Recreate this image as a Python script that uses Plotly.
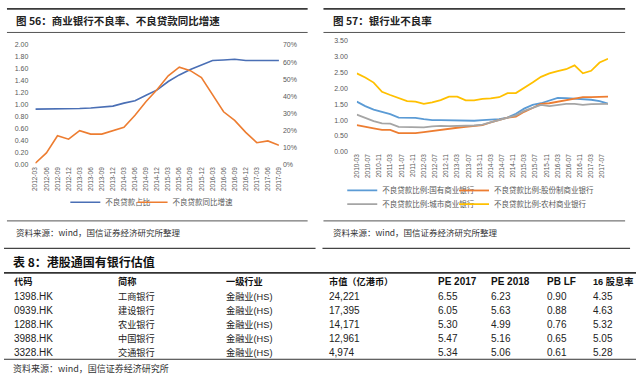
import re
import plotly.graph_objects as go

W, H = 639, 377

# ---------------- data: figure 56 ----------------
quarters_56 = ["2012-03", "2012-06", "2012-09", "2012-12", "2013-03", "2013-06", "2013-09", "2013-12",
               "2014-03", "2014-06", "2014-09", "2014-12", "2015-03", "2015-06", "2015-09", "2015-12",
               "2016-03", "2016-06", "2016-09", "2016-12", "2017-03", "2017-06", "2017-09"]
npl_ratio_56 = [0.93, 0.93, 0.94, 0.94, 0.94, 0.95, 0.96, 0.98, 1.03, 1.07, 1.16, 1.25,
                1.39, 1.50, 1.59, 1.67, 1.74, 1.75, 1.76, 1.74, 1.74, 1.74, 1.74]
npl_growth_56 = [1, 7, 17, 15, 20, 18, 18, 20, 22, 29, 37, 44,
                 52, 57, 55, 51, 41, 31, 26, 19, 13, 14, 11.5]

# ---------------- data: figure 57 ----------------
dates_57 = ["2010-03", "2010-06", "2010-09", "2010-12", "2011-03", "2011-06", "2011-09", "2011-12",
            "2012-03", "2012-06", "2012-09", "2012-12", "2013-03", "2013-06", "2013-09", "2013-12",
            "2014-03", "2014-06", "2014-09", "2014-12", "2015-03", "2015-06", "2015-09", "2015-12",
            "2016-03", "2016-06", "2016-09", "2016-12", "2017-03", "2017-06", "2017-09"]
state_owned = [1.58, 1.44, 1.33, 1.26, 1.19, 1.08, 1.08, 1.07, 1.03, 1.00, 1.00, 0.99, 0.98, 0.97, 0.98, 1.00,
               1.01, 1.03, 1.08, 1.20, 1.36, 1.48, 1.53, 1.62, 1.70, 1.69, 1.67, 1.67, 1.64, 1.60, 1.52]
joint_stock = [0.84, 0.78, 0.74, 0.69, 0.69, 0.59, 0.59, 0.59, 0.62, 0.66, 0.69, 0.72, 0.76, 0.79, 0.82, 0.84,
               0.93, 1.00, 1.08, 1.11, 1.26, 1.38, 1.51, 1.53, 1.58, 1.62, 1.67, 1.72, 1.72, 1.72, 1.74]
city_banks = [1.17, 1.07, 0.97, 0.90, 0.89, 0.79, 0.79, 0.78, 0.77, 0.80, 0.82, 0.81, 0.81, 0.82, 0.83, 0.86,
              0.93, 0.99, 1.08, 1.15, 1.29, 1.38, 1.48, 1.44, 1.48, 1.51, 1.51, 1.48, 1.50, 1.51, 1.51]
rural_banks = [2.47, 2.34, 2.18, 1.89, 1.79, 1.69, 1.60, 1.58, 1.51, 1.56, 1.63, 1.74, 1.74, 1.62, 1.62, 1.67,
               1.68, 1.72, 1.85, 1.85, 2.00, 2.18, 2.36, 2.47, 2.54, 2.60, 2.72, 2.47, 2.55, 2.81, 2.93]
ticks_57 = ["2010-03", "2010-07", "2010-11", "2011-03", "2011-07", "2011-11", "2012-03", "2012-07",
            "2012-11", "2013-03", "2013-07", "2013-11", "2014-03", "2014-07", "2014-11", "2015-03",
            "2015-07", "2015-11", "2016-03", "2016-07", "2016-11", "2017-03", "2017-07"]

# ---------------- data: table 8 ----------------
table_header = ["代码", "简称", "一级行业", "市值（亿港币）", "PE 2017", "PE 2018", "PB LF", "16 股息率"]
codes = ["1398.HK", "0939.HK", "1288.HK", "3988.HK", "3328.HK"]
names = ["工商银行", "建设银行", "农业银行", "中国银行", "交通银行"]
industry = ["金融业(HS)"] * 5
mkt_cap = ["24,221", "17,395", "14,171", "12,961", "4,974"]
pe_2017 = ["6.55", "6.05", "5.30", "5.47", "5.34"]
pe_2018 = ["6.23", "5.63", "4.99", "5.16", "5.06"]
pb_lf = ["0.90", "0.88", "0.76", "0.65", "0.61"]
div_yield_16 = ["4.35", "4.63", "5.32", "5.05", "5.28"]
table_columns = [codes, names, industry, mkt_cap, pe_2017, pe_2018, pb_lf, div_yield_16]


def px(x):
    return x / W


def py(y):
    return 1 - y / H


CJK = "Noto Sans CJK SC"
TICK = dict(family="Liberation Sans, Arial", size=7, color="#595959")
AX_DATES = [d + "-01" for d in dates_57]
TICK_DATES = [d + "-01" for d in ticks_57]

fig = go.Figure()

# figure 56 traces
fig.add_trace(go.Scatter(x=quarters_56, y=npl_ratio_56, mode="lines", name="不良贷款占比",
                         line=dict(color="#4A6FB5", width=1.6), xaxis="x", yaxis="y", legend="legend"))
fig.add_trace(go.Scatter(x=quarters_56, y=npl_growth_56, mode="lines", name="不良贷款同比增速",
                         line=dict(color="#ED7D31", width=1.6), xaxis="x", yaxis="y2", legend="legend2"))

# figure 57 traces
fig.add_trace(go.Scatter(x=AX_DATES, y=state_owned, mode="lines", name="不良贷款比例:国有商业银行",
                         line=dict(color="#5B9BD5", width=1.8), xaxis="x3", yaxis="y3", legend="legend3"))
fig.add_trace(go.Scatter(x=AX_DATES, y=joint_stock, mode="lines", name="不良贷款比例:股份制商业银行",
                         line=dict(color="#ED7D31", width=1.8), xaxis="x3", yaxis="y3", legend="legend4"))
fig.add_trace(go.Scatter(x=AX_DATES, y=city_banks, mode="lines", name="不良贷款比例:城市商业银行",
                         line=dict(color="#A5A5A5", width=1.8), xaxis="x3", yaxis="y3", legend="legend5"))
fig.add_trace(go.Scatter(x=AX_DATES, y=rural_banks, mode="lines", name="不良贷款比例:农村商业银行",
                         line=dict(color="#FFC000", width=1.8), xaxis="x3", yaxis="y3", legend="legend6"))

legend_font = dict(family=CJK, size=7.5, color="#595959")


def leg(xp, yp):
    return dict(orientation="h", x=px(xp), y=py(yp), xanchor="left", yanchor="middle",
                font=legend_font, bgcolor="rgba(0,0,0,0)")


fig.update_layout(
    width=W, height=H, autosize=False,
    margin=dict(l=0, r=0, t=0, b=0),
    paper_bgcolor="white", plot_bgcolor="white",
    font=dict(family=CJK),
    xaxis=dict(domain=[px(31.7), px(278)], type="category", range=[0, 22],
               tickangle=-90, tickfont=dict(size=6.5, color="#595959", family="Liberation Sans"),
               showgrid=False, zeroline=False, showline=False, ticks="", anchor="y"),
    yaxis=dict(domain=[py(164), py(41.7)], range=[0, 2], dtick=0.2, tickformat=".2f",
               tickfont=TICK, showgrid=False, zeroline=False, showline=False, ticks="",
               ticklabelstandoff=6, anchor="x"),
    yaxis2=dict(overlaying="y", side="right", range=[0, 70], dtick=10, ticksuffix="%",
                tickfont=TICK, showgrid=False, zeroline=False, showline=False, ticks="",
                ticklabelstandoff=3, anchor="x"),
    xaxis3=dict(domain=[px(356.7), px(610.7)], type="date", range=["2010-03-01", "2017-09-01"],
                tickvals=TICK_DATES, ticktext=ticks_57, tickangle=-90,
                tickfont=dict(size=6.5, color="#595959", family="Liberation Sans"),
                showgrid=False, zeroline=False, showline=False, ticks="", anchor="y3"),
    yaxis3=dict(domain=[py(150.7), py(37.3)], range=[0, 3.5], dtick=0.5, tickformat=".2f",
                tickfont=TICK, showgrid=False, zeroline=False, showline=False, ticks="",
                ticklabelstandoff=8, anchor="x3"),
    legend=leg(62, 202),
    legend2=leg(130, 202),
    legend3=leg(342, 190),
    legend4=leg(455, 190),
    legend5=leg(342, 204),
    legend6=leg(455, 204),
    showlegend=True,
)

# rules / separator lines
lines = [
    (3, 307, 5, 1.6, "#3A3A3A"), (323, 628, 5, 1.6, "#3A3A3A"),
    (3, 307, 29, 1.0, "#555555"), (323, 628, 29, 1.0, "#555555"),
    (3, 307, 221, 1.0, "#555555"), (323, 628, 221, 1.0, "#555555"),
    (0, 315, 249, 1.2, "#444444"), (322, 633, 249, 1.2, "#444444"),
    (0, 639, 274, 1.6, "#333333"), (0, 639, 362, 1.0, "#333333"),
]
for x0, x1, yy, w, c in lines:
    fig.add_shape(type="line", xref="paper", yref="paper", x0=px(x0), x1=px(x1), y0=py(yy), y1=py(yy),
                  line=dict(color=c, width=w))

texts = [
    ("图 56：商业银行不良率、不良贷款同比增速", 10, 17, 10.5, "bold", "#222222"),
    ("图 57：银行业不良率", 331, 17, 10.5, "bold", "#222222"),
    ("资料来源：wind，国信证券经济研究所整理", 10, 232, 8.5, "normal", "#333333"),
    ("资料来源：wind，国信证券经济研究所整理", 331, 232, 8.5, "normal", "#333333"),
    ("表 8：港股通国有银行估值", 7, 262, 12, "bold", "#111111"),
    ("资料来源：wind，国信证券经济研究所", 7, 371, 9, "normal", "#333333"),
]
for t, xx, yy, s, wgt, c in texts:
    fig.add_annotation(text=t, xref="paper", yref="paper", x=px(xx), y=py(yy), xanchor="left",
                       yanchor="middle", showarrow=False,
                       font=dict(family=CJK, size=s, color=c, weight=wgt))

# table 8 as text cells
col_x = [8, 113, 222, 327, 437, 490, 547, 593]
header_y = 283
row_y = [298, 312.5, 327, 341, 355]
TFONT = "Liberation Sans, " + CJK
cjk_re = re.compile(r"[\u4e00-\u9fff]")


def cell_size(s):
    return 9.2 if cjk_re.search(s) else 10


for ci, head in enumerate(table_header):
    fig.add_annotation(text=head, xref="paper", yref="paper", x=px(col_x[ci]), y=py(header_y),
                       xanchor="left", yanchor="middle", showarrow=False,
                       font=dict(family=TFONT, size=cell_size(head), color="#111111", weight="bold"))
    for ri, val in enumerate(table_columns[ci]):
        fig.add_annotation(text=val, xref="paper", yref="paper", x=px(col_x[ci]), y=py(row_y[ri]),
                           xanchor="left", yanchor="middle", showarrow=False,
                           font=dict(family=TFONT, size=cell_size(val), color="#222222"))

fig.write_html("out.html", config={"displayModeBar": False},
               post_script="document.body.style.margin='0';")
